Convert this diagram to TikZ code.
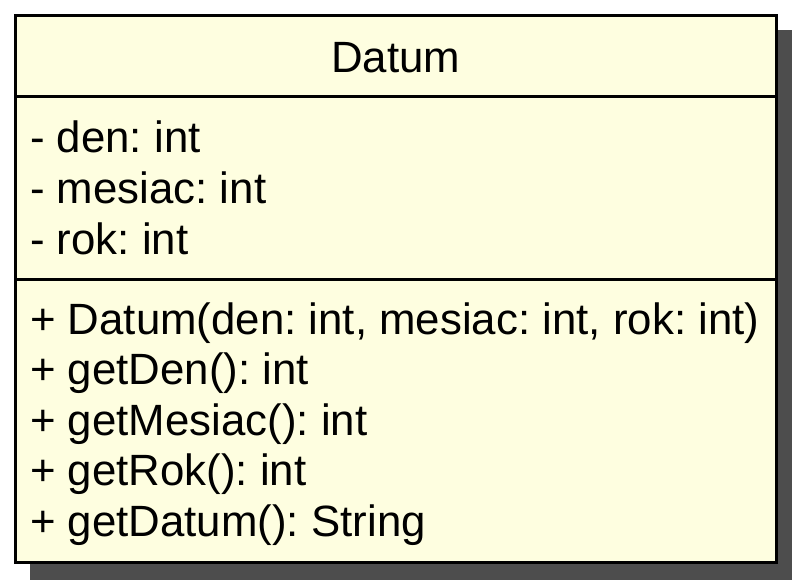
\documentclass[tikz,border=0pt]{standalone}
\usepackage{fontspec}
\setmainfont{Liberation Sans}
\usetikzlibrary{calc}
\definecolor{classfill}{RGB}{254,254,224}
\definecolor{shadowgray}{RGB}{77,77,77}
\frenchspacing
\begin{document}
\begin{tikzpicture}[x=1pt,y=-1pt,
  classbox/.style={draw=black, fill=classfill, line width=2.8pt,
    minimum width=760.9pt, minimum height=547.4pt, inner sep=0pt, outer sep=0pt},
  boxshadow/.style={fill=shadowgray},
  divider/.style={draw=black, line width=2.8pt},
  classname/.style={anchor=base, inner sep=0pt, font=\fontsize{43.8}{50.6}\selectfont},
  member/.style={anchor=base west, inner sep=0pt, font=\fontsize{43.8}{50.6}\selectfont}]
\useasboundingbox (0,0) rectangle (792,579);

% class box with its drop shadow
\node[classbox] (datum) at (395.75,288.9) {};
\fill[boxshadow] ($(datum.north east)+(1.4,14.8)$) rectangle ($(datum.south east)+(18,18)$);
\fill[boxshadow] ($(datum.south west)+(14.8,1.4)$) rectangle ($(datum.south east)+(18,18)$);

% compartment separators
\coordinate (sep1w) at (datum.west |- 0,96.7);
\coordinate (sep1e) at (datum.east |- 0,96.7);
\coordinate (sep2w) at (datum.west |- 0,279.3);
\coordinate (sep2e) at (datum.east |- 0,279.3);
\draw[divider] (sep1w) -- (sep1e);
\draw[divider] (sep2w) -- (sep2e);

% class name
\node[classname] (name) at (395.75,72) {Datum};

% attributes
\node[member] (a1) at (30,152.5) {- den: int};
\node[member] (a2) at (30,203.5) {- mesiac: int};
\node[member] (a3) at (30,254.5) {- rok: int};

% operations
\node[member] (m1) at (30,334.0) {+ Datum(den: int, mesiac: int, rok: int)};
\node[member] (m2) at (30,384.6) {+ getDen(): int};
\node[member] (m3) at (30,435.2) {+ getMesiac(): int};
\node[member] (m4) at (30,485.8) {+ getRok(): int};
\node[member] (m5) at (30,536.4) {+ getDatum(): String};
\end{tikzpicture}
\end{document}
